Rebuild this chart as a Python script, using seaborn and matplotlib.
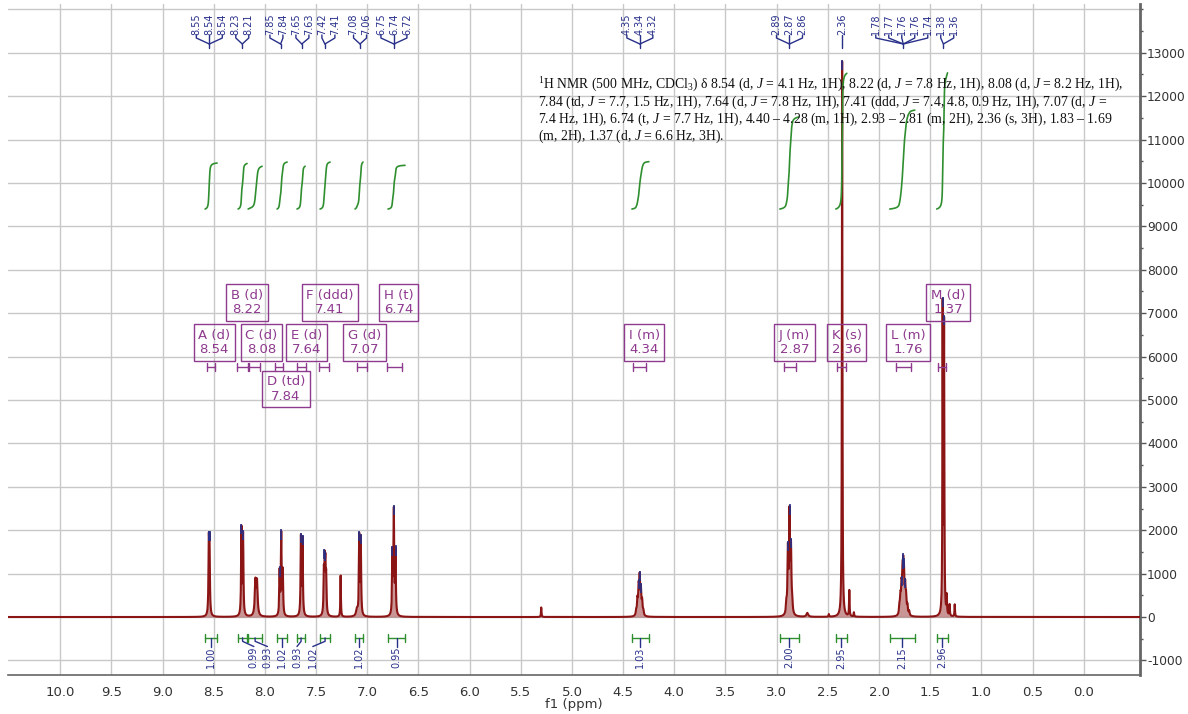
import numpy as np
import pandas as pd
import matplotlib
matplotlib.use("Agg")
import matplotlib.pyplot as plt
from matplotlib.ticker import FixedLocator, MultipleLocator
import seaborn as sns

# ---------------- spectrum lines: position (ppm), height, half width (ppm)
line_ppm = [8.548, 8.541,
            8.229, 8.213,
            8.093, 8.077,
            7.856, 7.840, 7.825,
            7.648, 7.632,
            7.424, 7.416, 7.409, 7.401,
            7.260,
            7.100,
            7.078, 7.063,
            6.754, 6.740, 6.724,
            5.300,
            4.372, 4.360, 4.348, 4.338, 4.326, 4.314, 4.302,
            2.905, 2.890, 2.874, 2.860, 2.848,
            2.700,
            2.490,
            2.360,
            2.290, 2.245,
            1.800, 1.790, 1.780, 1.770, 1.763, 1.756, 1.744, 1.735, 1.722, 1.705,
            1.378, 1.364,
            1.338, 1.310, 1.260]
line_height = [1550, 1550,
               2000, 1850,
               780, 760,
               1000, 1850, 1000,
               1800, 1750,
               900, 1050, 1000, 800,
               950,
               150,
               1800, 1750,
               1400, 2350, 1450,
               220,
               110, 340, 580, 800, 540, 300, 100,
               230, 1450, 2250, 1450, 230,
               90,
               60,
               12800,
               600, 100,
               200, 360, 560, 760, 800, 760, 560, 360, 200, 100,
               7050, 6600,
               420, 260, 280]
line_hw = [0.004, 0.004,
           0.004, 0.004,
           0.007, 0.007,
           0.004, 0.004, 0.004,
           0.004, 0.004,
           0.004, 0.004, 0.004, 0.004,
           0.003,
           0.010,
           0.004, 0.004,
           0.004, 0.004, 0.004,
           0.003,
           0.005, 0.005, 0.005, 0.005, 0.005, 0.005, 0.005,
           0.005, 0.005, 0.005, 0.005, 0.005,
           0.010,
           0.003,
           0.003,
           0.003, 0.003,
           0.005, 0.005, 0.005, 0.005, 0.005, 0.005, 0.005, 0.005, 0.005, 0.005,
           0.003, 0.003,
           0.003, 0.003, 0.003]

# ---------------- picked peaks, grouped per multiplet
peak_groups = [[8.548, 8.543, 8.538], [8.229, 8.213], [7.853, 7.840],
               [7.648, 7.632], [7.418, 7.410], [7.078, 7.063],
               [6.754, 6.740, 6.724], [4.348, 4.338, 4.324],
               [2.890, 2.874, 2.860], [2.360],
               [1.780, 1.770, 1.763, 1.756, 1.744], [1.378, 1.364]]

# ---------------- multiplet annotations
mult_names = ["A (d)", "B (d)", "C (d)", "D (td)", "E (d)", "F (ddd)", "G (d)",
              "H (t)", "I (m)", "J (m)", "K (s)", "L (m)", "M (d)"]
mult_shift = [8.54, 8.22, 8.08, 7.84, 7.64, 7.41, 7.07, 6.74, 4.34, 2.87, 2.36, 1.76, 1.37]
mult_range = [(8.565, 8.486), (8.27, 8.17), (8.16, 8.05), (7.90, 7.82), (7.69, 7.60),
              (7.47, 7.37), (7.10, 7.00), (6.81, 6.66), (4.40, 4.28), (2.93, 2.81),
              (2.41, 2.32), (1.83, 1.69), (1.42, 1.35)]
mult_row = [1, 0, 1, 2, 1, 0, 1, 0, 1, 1, 1, 1, 0]

# ---------------- integrals
int_range = [(8.584, 8.467), (8.262, 8.174), (8.164, 8.027), (7.881, 7.783),
             (7.686, 7.607), (7.461, 7.363), (7.119, 7.041), (6.797, 6.631),
             (4.414, 4.248), (2.969, 2.783), (2.422, 2.314), (1.895, 1.650),
             (1.436, 1.330)]
int_value = [1.00, 0.99, 0.93, 1.02, 0.93, 1.02, 1.02, 0.95, 1.03, 2.00, 2.95, 2.15, 2.96]

report_lines = [
    r"$^{1}$H NMR (500 MHz, CDCl$_{3}$) δ 8.54 (d, $J$ = 4.1 Hz, 1H), 8.22 (d, $J$ = 7.8 Hz, 1H), 8.08 (d, $J$ = 8.2 Hz, 1H),",
    r"7.84 (td, $J$ = 7.7, 1.5 Hz, 1H), 7.64 (d, $J$ = 7.8 Hz, 1H), 7.41 (ddd, $J$ = 7.4, 4.8, 0.9 Hz, 1H), 7.07 (d, $J$ =",
    r"7.4 Hz, 1H), 6.74 (t, $J$ = 7.7 Hz, 1H), 4.40 – 4.28 (m, 1H), 2.93 – 2.81 (m, 2H), 2.36 (s, 3H), 1.83 – 1.69",
    r"(m, 2H), 1.37 (d, $J$ = 6.6 Hz, 3H).",
]

# ---------------- styling
RED = "#8B1414"
NAVY = "#28308A"
PURPLE = "#8E3A8E"
GREEN = "#2F8F2F"
GRID = "#C8C8C8"

sns.set_theme(style="white")
plt.rcParams["font.family"] = ["DejaVu Sans"]
plt.rcParams["mathtext.fontset"] = "custom"
plt.rcParams["mathtext.rm"] = "Liberation Serif"
plt.rcParams["mathtext.it"] = "Liberation Serif:italic"
plt.rcParams["mathtext.bf"] = "Liberation Serif:bold"

XLIM = (10.51, -0.55)
YLIM = (-1336, 14124)

fig = plt.figure(figsize=(11.88, 7.14), dpi=100)
ax = fig.add_axes([8 / 1188, 39 / 714, 1132 / 1188, 671 / 714])

# build the spectrum from its lines
ppm = np.arange(-0.55, 10.51, 0.0004)
intensity = np.zeros_like(ppm)
for c, h, w in zip(line_ppm, line_height, line_hw):
    intensity += h / (1.0 + ((ppm - c) / w) ** 2)
df = pd.DataFrame({"ppm": ppm, "intensity": intensity})

# grid
for gx in np.arange(0.0, 10.01, 0.5):
    ax.axvline(gx, color=GRID, lw=1.0, zorder=0)
for gy in range(-1000, 14001, 1000):
    ax.axhline(gy, color=GRID, lw=1.0, zorder=0)

ax.fill_between(df["ppm"], 0, df["intensity"], color=RED, alpha=0.45, lw=0, zorder=2)
sns.lineplot(data=df, x="ppm", y="intensity", estimator=None, sort=False,
             color=RED, lw=1.5, ax=ax, zorder=3)

# picked peak markers on the spectrum
for grp in peak_groups:
    for p in grp:
        m = np.abs(ppm - p) < 0.004
        top = intensity[m].max()
        ax.plot([p, p], [top - 200, top + 40], color=NAVY, lw=1.2, zorder=4,
                solid_capstyle="butt")

# ---------------- peak labels along the top
xt = ax.get_xaxis_transform()
PX_PPM = 102.4
gap = 13.0 / PX_PPM


def yfrac(px):
    return (675.0 - px) / 671.0


# lay labels out left to right without overlap
items = []
for gi, grp in enumerate(peak_groups):
    for p in grp:
        items.append([gi, p])
clusters = []
for gi, p in items:
    clusters.append({"targets": [-p], "members": [(gi, p)]})
    while len(clusters) > 1:
        a, b = clusters[-2], clusters[-1]
        ca = np.mean(a["targets"]); na = len(a["targets"])
        cb = np.mean(b["targets"]); nb = len(b["targets"])
        a_last = ca + gap * (na - 1) / 2
        b_first = cb - gap * (nb - 1) / 2
        if a_last + gap > b_first:
            clusters[-2] = {"targets": a["targets"] + b["targets"],
                            "members": a["members"] + b["members"]}
            clusters.pop()
        else:
            break
label_pos = []
for cl in clusters:
    n = len(cl["targets"])
    c = np.mean(cl["targets"])
    for i, mem in enumerate(cl["members"]):
        label_pos.append((mem, -(c - gap * (n - 1) / 2 + i * gap)))

group_center = [np.mean(g) for g in peak_groups]
for (gi, p), xl in label_pos:
    ax.text(xl, yfrac(35), f"{p:.2f}", transform=xt, rotation=90, ha="center",
            va="bottom", fontsize=7, color=NAVY, clip_on=False)
    gc = group_center[gi]
    ax.plot([xl, xl, gc], [yfrac(35), yfrac(38), yfrac(44)], transform=xt,
            color=NAVY, lw=1.0, clip_on=False)
for gc in group_center:
    ax.plot([gc, gc], [yfrac(44), yfrac(48)], transform=xt, color=NAVY, lw=1.0)

# ---------------- multiplet boxes and range markers
row_level = [7247, 6325, 5253]
for name, shift, (hi, lo), row in zip(mult_names, mult_shift, mult_range, mult_row):
    ax.text(shift - 0.045, row_level[row], f"{name}\n{shift:.2f}", ha="center", va="center",
            fontsize=9.5, color=PURPLE, linespacing=1.15, zorder=6,
            bbox=dict(boxstyle="square,pad=0.35", fc="none", ec=PURPLE, lw=1.0))
    ax.plot([hi, lo], [5760, 5760], color=PURPLE, lw=1.0, zorder=6)
    ax.plot([hi, hi], [5660, 5860], color=PURPLE, lw=1.0, zorder=6)
    ax.plot([lo, lo], [5660, 5860], color=PURPLE, lw=1.0, zorder=6)

# ---------------- integral curves and labels
INT_BASE = 9400
INT_SCALE = 1060
int_label_shift = [0, -0.11, -0.12, 0, 0.04, 0.12, 0, 0, 0, 0, 0, 0, 0]
for (hi, lo), val, dx in zip(int_range, int_value, int_label_shift):
    m = (ppm <= hi) & (ppm >= lo)
    seg_ppm = ppm[m][::-1]
    seg_int = intensity[m][::-1]
    cum = np.cumsum(seg_int)
    cum = cum / cum[-1]
    ax.plot(seg_ppm, INT_BASE + val * INT_SCALE * cum, color=GREEN, lw=1.2, zorder=5)
    # bracket below baseline
    ax.plot([hi, lo], [-480, -480], color=GREEN, lw=1.0, zorder=5)
    ax.plot([hi, hi], [-390, -570], color=GREEN, lw=1.0, zorder=5)
    ax.plot([lo, lo], [-390, -570], color=GREEN, lw=1.0, zorder=5)
    mid = (hi + lo) / 2
    xl = mid + dx
    ax.plot([mid, mid, xl], [-480, -560, -680], color=NAVY, lw=1.0, zorder=5)
    ax.text(xl, -690, f"{val:.2f}", rotation=90, ha="center", va="top",
            fontsize=7, color=NAVY, zorder=6)

# ---------------- report text
for i, s in enumerate(report_lines):
    fig.text(538 / 1188, 1 - (89 + i * 16.8) / 714, s, fontsize=9.9,
             family="Liberation Serif", color="#111111", va="baseline", ha="left")

# ---------------- axes
ax.set_xlim(*XLIM)
ax.set_ylim(*YLIM)
ax.xaxis.set_major_locator(FixedLocator(np.arange(0.0, 10.01, 0.5)))
ax.xaxis.set_minor_locator(FixedLocator(np.arange(0.25, 10.5, 0.5)))
ax.set_xticklabels([f"{v:.1f}" for v in np.arange(0.0, 10.01, 0.5)])
ax.yaxis.tick_right()
ax.yaxis.set_major_locator(FixedLocator(np.arange(-1000, 13001, 1000)))
ax.yaxis.set_minor_locator(MultipleLocator(500))
ax.set_yticklabels([f"{int(v)}" for v in np.arange(-1000, 13001, 1000)])
ax.tick_params(axis="x", which="major", direction="out", length=5, width=1.0,
               color="#555555", labelsize=9.5, labelcolor="#333333", pad=3)
ax.tick_params(axis="x", which="minor", direction="out", length=3, width=1.0, color="#555555")
ax.tick_params(axis="y", which="major", direction="out", length=4, width=1.0,
               color="#555555", labelsize=8.8, labelcolor="#333333", pad=1,
               right=True, left=False)
ax.tick_params(axis="y", which="minor", direction="out", length=2.5, width=1.0,
               color="#555555", right=True, left=False)
for side in ("left", "top"):
    ax.spines[side].set_visible(False)
ax.spines["bottom"].set_color("#666666")
ax.spines["bottom"].set_linewidth(1.2)
ax.spines["right"].set_color("#666666")
ax.spines["right"].set_linewidth(2.0)
ax.set_xlabel("f1 (ppm)", fontsize=9.5, color="#333333", labelpad=-1)
ax.set_ylabel("")

fig.savefig("out.png", dpi=100)
